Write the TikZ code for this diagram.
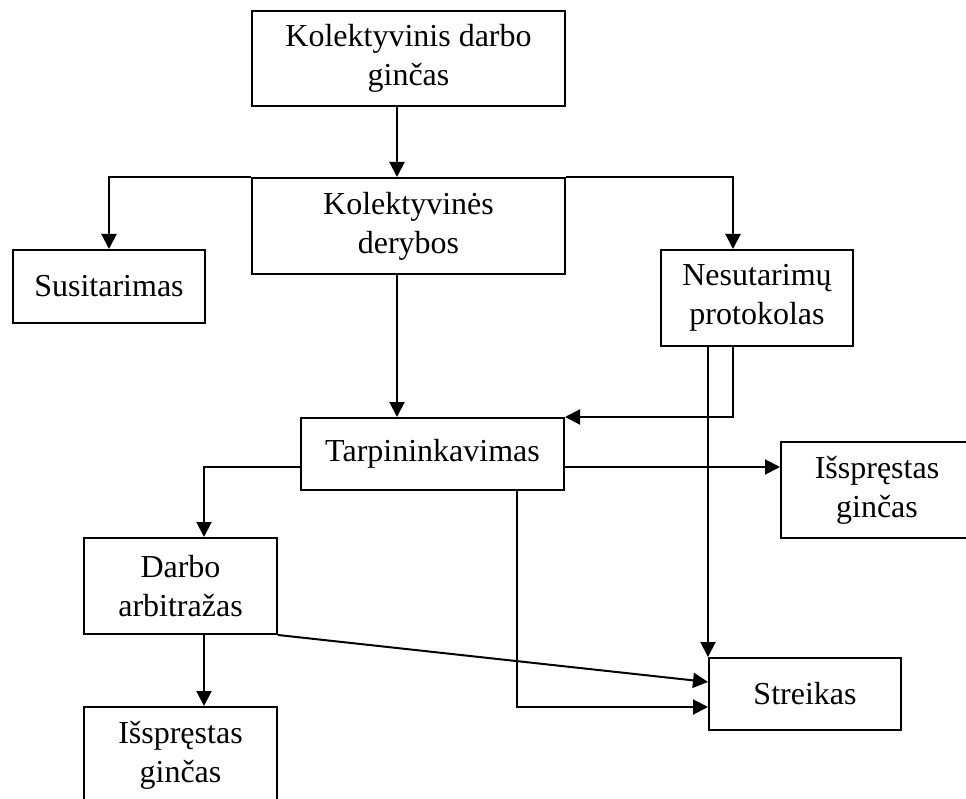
\documentclass[tikz,border=0pt]{standalone}
\usepackage{fontspec}
\setmainfont{Liberation Serif}
\usetikzlibrary{arrows.meta}
\begin{document}
\begin{tikzpicture}[x=1pt,y=-1pt,
  box/.style={draw, line width=2pt, inner sep=0pt, align=center, font=\fontsize{32}{39}\selectfont},
  arr/.style={line width=2pt, -{Triangle[length=15pt,width=15pt]}}]
\useasboundingbox (0,0) rectangle (966,799);
\clip (0,0) rectangle (966,799);
\node[box, minimum width=313pt, minimum height=95pt] (kdg) at (408.5,58.5) {Kolektyvinis darbo\\ginčas};
\node[box, minimum width=313pt, minimum height=96pt] (kd) at (408.5,226) {Kolektyvinės\\derybos};
\node[box, minimum width=192pt, minimum height=73pt] (sus) at (109,286.5) {Susitarimas};
\node[box, minimum width=192pt, minimum height=96pt] (np) at (757,298) {Nesutarimų\\protokolas};
\node[box, minimum width=263pt, minimum height=72pt] (tarp) at (432.5,454) {Tarpininkavimas};
\node[box, minimum width=192pt, minimum height=96pt] (isr) at (877,490) {Išspręstas\\ginčas};
\node[box, minimum width=193pt, minimum height=96pt] (da) at (180.5,586) {Darbo\\arbitražas};
\node[box, minimum width=192pt, minimum height=72pt] (str) at (805,694) {Streikas};
\node[box, minimum width=193pt, minimum height=96pt] (isb) at (180.5,755) {Išspręstas\\ginčas};
% connectors
\draw[arr] ([xshift=-11.5pt]kdg.south) -- ([xshift=-11.5pt]kd.north);
\draw[arr] (kd.north west) -| (sus.north);
\draw[arr] (kd.north east) -| ([xshift=-24pt]np.north);
\draw[arr] ([xshift=-11.5pt]kd.south) -- ([xshift=-11.5pt]kd.south |- tarp.north);
\draw[arr] ([xshift=-24pt]np.south) |- (tarp.north east);
\draw[arr] (np.south -| str.north west) -- (str.north west);
\draw[arr] ([yshift=-13pt]tarp.east) -- ([yshift=-13pt]tarp.east -| isr.west);
\draw[arr] ([yshift=-13pt]tarp.west) -| ([xshift=23.5pt]da.north);
\draw[arr] ([xshift=23.5pt]da.south) -- ([xshift=23.5pt]isb.north);
\draw[arr] (da.south east) -- ([yshift=12pt]str.west);
\draw[arr] ([xshift=84.5pt]tarp.south) |- ([yshift=-13pt]str.west);
\end{tikzpicture}
\end{document}
